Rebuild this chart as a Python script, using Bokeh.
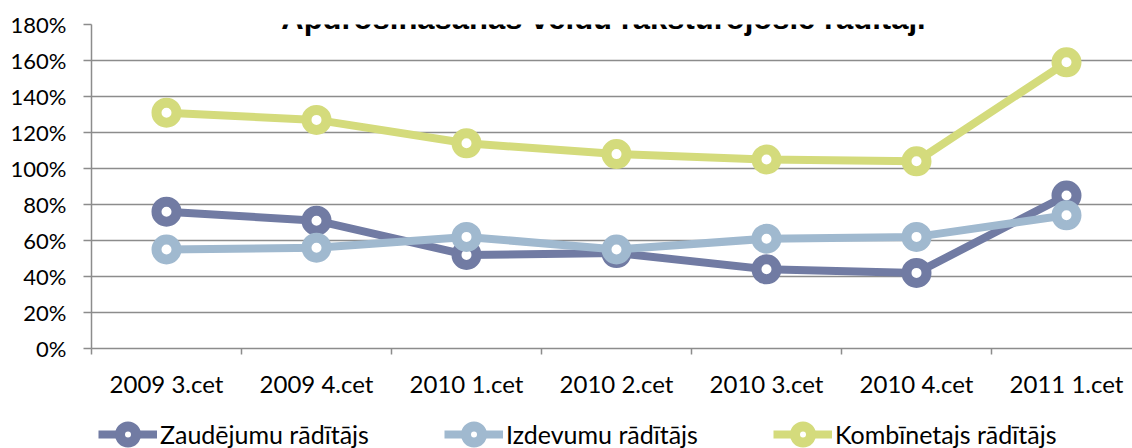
from bokeh.plotting import figure
from bokeh.layouts import column
from bokeh.models import FixedTicker, Label, Legend, LegendItem, Range1d, PrintfTickFormatter
from bokeh.embed import file_html
from bokeh.resources import INLINE

# ---- data ----
categories = ["2009 3.cet", "2009 4.cet", "2010 1.cet", "2010 2.cet",
              "2010 3.cet", "2010 4.cet", "2011 1.cet"]
zaudejumu = [76, 71, 52, 53, 44, 42, 85]
izdevumu = [55, 56, 62, 55, 61, 62, 74]
kombinetajs = [131, 127, 114, 108, 105, 104, 159]
series_names = ["Zaudējumu rādītājs", "Izdevumu rādītājs", "Kombīnetajs rādītājs"]
y_ticks = [0, 20, 40, 60, 80, 100, 120, 140, 160, 180]
chart_title = "Apdrošināšanas veidu raksturojošie rādītāji"

# ---- styles ----
colors = ["#717BA3", "#A0B9CF", "#D4DB7C"]
GRID = "#8C8C8C"
FONT = "Lato"

W, H_MAIN, H_LEG = 1132, 400, 48
BL, BR, BT, BB = 91, 0, 24, 47
CAT_W = 150.0
frame_w = W - BL - BR

xs = list(range(len(categories)))
series = [zaudejumu, izdevumu, kombinetajs]

p = figure(width=W, height=H_MAIN, output_backend="svg", toolbar_location=None,
           x_range=Range1d(-0.5, -0.5 + frame_w / CAT_W),
           y_range=Range1d(y_ticks[0], y_ticks[-1]),
           min_border_left=BL, min_border_right=BR,
           min_border_top=BT, min_border_bottom=BB)
p.outline_line_color = None
p.background_fill_color = "white"
p.border_fill_color = "white"

# grid
p.xgrid.visible = False
p.ygrid.ticker = FixedTicker(ticks=y_ticks)
p.ygrid.grid_line_color = GRID
p.ygrid.grid_line_width = 1.5

# x axis
xa = p.xaxis[0]
xa.ticker = FixedTicker(ticks=xs, minor_ticks=[i - 0.5 for i in range(len(categories) + 1)])
xa.major_label_overrides = {i: c for i, c in enumerate(categories)}
xa.major_tick_out = 0
xa.major_tick_in = 0
xa.minor_tick_out = 6
xa.minor_tick_in = 0
xa.minor_tick_line_color = GRID
xa.minor_tick_line_width = 1.5
xa.axis_line_color = GRID
xa.axis_line_width = 1.5
xa.major_label_text_font = FONT
xa.major_label_text_font_size = "24px"
xa.major_label_text_color = "black"
xa.major_label_standoff = 14

# y axis
ya = p.yaxis[0]
ya.ticker = FixedTicker(ticks=y_ticks)
ya.formatter = PrintfTickFormatter(format="%d%%")
ya.major_tick_out = 8
ya.major_tick_in = 0
ya.minor_tick_out = 0
ya.minor_tick_in = 0
ya.major_tick_line_color = GRID
ya.major_tick_line_width = 1.5
ya.axis_line_color = GRID
ya.axis_line_width = 1.5
ya.major_label_text_font = FONT
ya.major_label_text_font_size = "22px"
ya.major_label_text_color = "black"
ya.major_label_standoff = 17

# series
for vals, c in zip(series, colors):
    p.line(xs, vals, line_color=c, line_width=8, line_join="round")
    p.scatter(xs, vals, marker="circle", size=20, line_color=c, line_width=10,
              fill_color="white")

# title (its top is cut off by the page edge, as in the reference)
title = Label(x=2.913, y=183.3, x_units="data", y_units="data", text=chart_title,
              text_font="Liberation Sans", text_font_style="bold",
              text_font_size="31px", text_align="center",
              text_baseline="alphabetic", text_color="black", level="overlay")
p.add_layout(title)

# ---- legend strip under the chart ----
# the legend's renderers hold the series, but this strip's y range lies far
# above them, so only the legend swatches are seen
pl = figure(width=W, height=H_LEG, output_backend="svg", toolbar_location=None,
            x_range=Range1d(-0.5, -0.5 + frame_w / CAT_W), y_range=Range1d(1000, 1001),
            x_axis_location=None, y_axis_location=None, min_border=0)
pl.outline_line_color = None
pl.xgrid.visible = False
pl.ygrid.visible = False
pl.background_fill_color = "white"
pl.border_fill_color = "white"

items = []
for name, vals, c in zip(series_names, series, colors):
    lr = pl.line(xs, vals, line_color=c, line_width=8)
    sr = pl.scatter(xs, vals, marker="circle", size=20, line_color=c, line_width=10,
                    fill_color="white")
    items.append(LegendItem(label=name, renderers=[lr, sr]))

legend = Legend(items=items, orientation="horizontal", location=(7, -6),
                glyph_width=59, glyph_height=40, label_standoff=3, spacing=75,
                padding=0, margin=0, border_line_color=None,
                background_fill_alpha=0, level="overlay",
                label_text_font=FONT, label_text_font_size="25px",
                label_text_color="black")
pl.add_layout(legend, "center")

layout = column(p, pl, spacing=0)
open("out.html", "w").write(file_html(layout, INLINE))
